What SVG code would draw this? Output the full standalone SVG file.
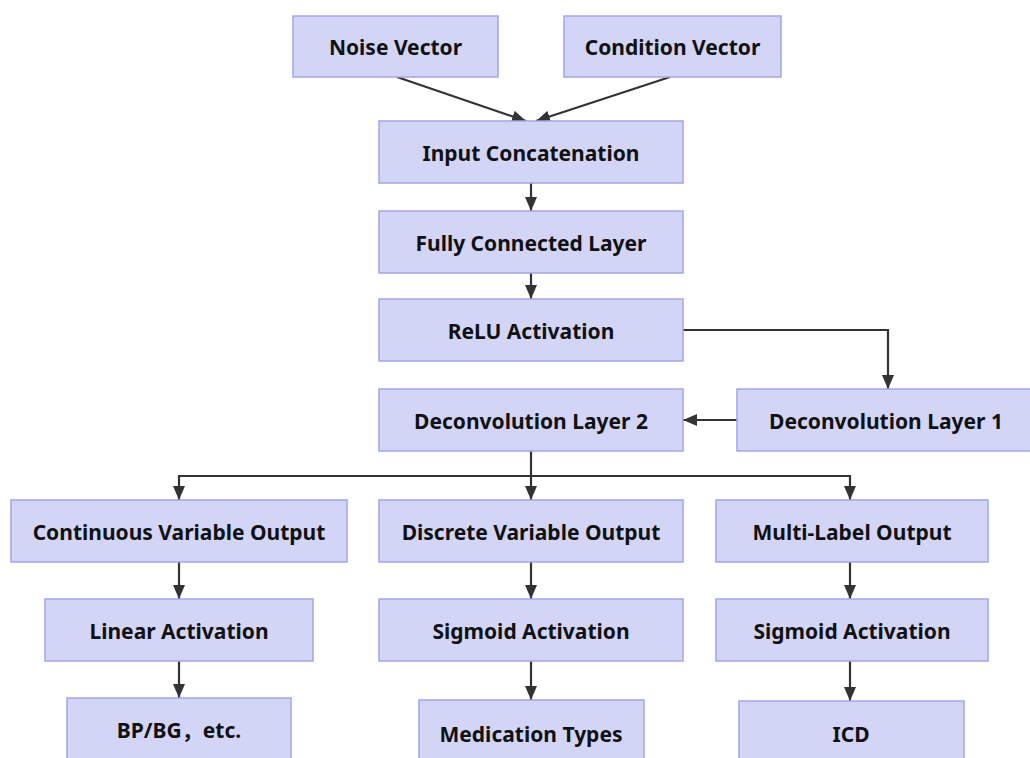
<svg xmlns="http://www.w3.org/2000/svg" width="1030" height="758" viewBox="0 0 1030 758">
<defs>
<style>
.n rect{fill:#d3d5f7;stroke:#a3a5ea;stroke-width:1.5}
.n text{font-family:"Noto Sans","Noto Sans CJK SC","Open Sans",sans-serif;font-weight:bold;font-size:21px;fill:#111;text-anchor:middle;dominant-baseline:central}
.e{fill:none;stroke:#333;stroke-width:2.2}
</style>
<marker id="ah" viewBox="0 0 14 12" refX="14" refY="6" markerWidth="14" markerHeight="12" markerUnits="userSpaceOnUse" orient="auto">
<path d="M0,0 L14,6 L0,12 z" fill="#333"/>
</marker>
</defs>
<rect width="1030" height="758" fill="#fff"/>
<g id="edges">
<path class="e" d="M397,77 L526,121" marker-end="url(#ah)"/>
<path class="e" d="M670,77 L536,121" marker-end="url(#ah)"/>
<path class="e" d="M531,183 L531,211" marker-end="url(#ah)"/>
<path class="e" d="M531,273 L531,299" marker-end="url(#ah)"/>
<path class="e" d="M683,330 L888,330 L888,389" marker-end="url(#ah)"/>
<path class="e" d="M737,420 L683,420" marker-end="url(#ah)"/>
<path class="e" d="M531,451 L531,500" marker-end="url(#ah)"/>
<path class="e" d="M531,476 L179,476 L179,500" marker-end="url(#ah)"/>
<path class="e" d="M531,476 L850,476 L850,500" marker-end="url(#ah)"/>
<path class="e" d="M179,562 L179,599" marker-end="url(#ah)"/>
<path class="e" d="M531,562 L531,599" marker-end="url(#ah)"/>
<path class="e" d="M850,562 L850,599" marker-end="url(#ah)"/>
<path class="e" d="M179,661 L179,698" marker-end="url(#ah)"/>
<path class="e" d="M531,661 L531,700" marker-end="url(#ah)"/>
<path class="e" d="M850,661 L850,701" marker-end="url(#ah)"/>
</g>
<g id="noise" class="n"><rect x="293" y="16" width="205" height="61"/><text x="395.5" y="47">Noise Vector</text></g>
<g id="condition" class="n"><rect x="564" y="16" width="217" height="61"/><text x="672.5" y="47">Condition Vector</text></g>
<g id="concat" class="n"><rect x="379" y="121" width="304" height="62"/><text x="531" y="153">Input Concatenation</text></g>
<g id="fc" class="n"><rect x="379" y="211" width="304" height="62"/><text x="531" y="243">Fully Connected Layer</text></g>
<g id="relu" class="n"><rect x="379" y="299" width="304" height="62"/><text x="531" y="331">ReLU Activation</text></g>
<g id="deconv2" class="n"><rect x="379" y="389" width="304" height="62"/><text x="531" y="421">Deconvolution Layer 2</text></g>
<g id="deconv1" class="n"><rect x="737" y="389" width="294" height="62"/><text x="886" y="421">Deconvolution Layer 1</text></g>
<g id="cont" class="n"><rect x="11" y="500" width="336" height="62"/><text x="179" y="532">Continuous Variable Output</text></g>
<g id="disc" class="n"><rect x="379" y="500" width="304" height="62"/><text x="531" y="532">Discrete Variable Output</text></g>
<g id="multi" class="n"><rect x="716" y="500" width="272" height="62"/><text x="852" y="532">Multi-Label Output</text></g>
<g id="linear" class="n"><rect x="45" y="599" width="268" height="62"/><text x="179" y="631">Linear Activation</text></g>
<g id="sig1" class="n"><rect x="379" y="599" width="304" height="62"/><text x="531" y="631">Sigmoid Activation</text></g>
<g id="sig2" class="n"><rect x="716" y="599" width="272" height="62"/><text x="852" y="631">Sigmoid Activation</text></g>
<g id="bpbg" class="n"><rect x="67" y="698" width="224" height="64"/><text x="179" y="730">BP/BG，etc.</text></g>
<g id="med" class="n"><rect x="419" y="700" width="225" height="64"/><text x="531" y="734">Medication Types</text></g>
<g id="icd" class="n"><rect x="739" y="701" width="225" height="64"/><text x="851" y="734">ICD</text></g>
</svg>
